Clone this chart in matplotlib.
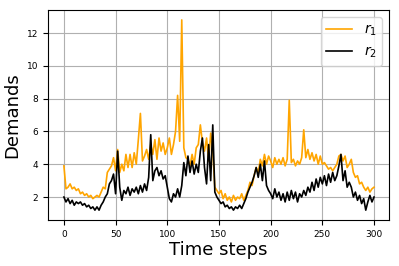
import numpy as np
import matplotlib
matplotlib.use("Agg")
import matplotlib.pyplot as plt

# values, every 2 time steps
steps = np.arange(0, 301, 2)

r1 = [3.9, 2.5, 2.6, 2.8, 2.5, 2.6, 2.4, 2.5, 2.2, 2.3,
      2.1, 2.2, 2.0, 2.1, 1.9, 2.0, 2.1, 2.0, 2.3, 2.6,
      2.5, 3.5, 3.7, 3.9, 4.4, 3.6, 4.9, 3.5, 4.0, 3.6,
      4.6, 3.8, 4.6, 3.8, 4.7, 4.0, 5.5, 7.1, 4.2, 4.5,
      4.9, 4.3, 5.2, 4.6, 5.5, 4.3, 5.6, 4.8, 5.3, 4.6,
      5.0, 5.6, 4.6, 5.2, 6.0, 8.2, 5.4, 12.8, 5.0, 4.4,
      4.3, 3.9, 4.6, 4.0, 5.0, 5.2, 6.4, 5.3, 4.8, 5.6,
      4.2, 5.9, 4.8, 2.6, 2.4, 2.2, 2.4, 1.9, 2.2, 1.8,
      2.0, 1.7, 2.1, 1.8, 2.0, 1.9, 2.2, 1.8, 2.1, 2.4,
      2.9, 2.7, 3.3, 3.8, 3.5, 4.3, 3.9, 4.6, 4.0, 4.5,
      4.2, 3.8, 4.4, 4.0, 4.3, 4.0, 4.4, 3.9, 4.3, 7.9,
      4.1, 4.3, 3.9, 4.2, 4.0, 4.4, 6.1, 4.4, 4.9, 4.3,
      4.7, 4.2, 4.6, 4.0, 4.5, 4.0, 4.1, 3.9, 3.7, 3.8,
      3.6, 3.8, 4.0, 4.5, 4.6, 4.2, 4.5, 3.8, 4.0, 4.3,
      3.5, 3.2, 3.3, 2.8, 2.9, 2.6, 2.4, 2.6, 2.3, 2.5,
      2.6]

r2 = [2.0, 1.7, 1.9, 1.6, 1.8, 1.5, 1.7, 1.6, 1.7, 1.5,
      1.6, 1.4, 1.5, 1.3, 1.4, 1.2, 1.4, 1.2, 1.5, 1.7,
      2.0, 2.2, 2.8, 3.0, 3.4, 2.2, 4.8, 2.6, 1.8, 2.4,
      2.2, 2.6, 2.1, 2.5, 2.3, 2.6, 2.2, 2.7, 2.3, 2.8,
      2.4, 3.2, 5.8, 3.0, 3.6, 3.8, 3.3, 3.6, 3.1, 3.3,
      2.6, 1.9, 1.7, 2.2, 2.0, 2.5, 2.0, 2.7, 4.1, 3.3,
      4.5, 3.5, 4.2, 3.4, 4.0, 3.5, 4.8, 5.6, 3.8, 2.8,
      5.2, 3.0, 6.4, 2.3, 2.0, 1.8, 1.6, 1.7, 1.4, 1.5,
      1.3, 1.4, 1.2, 1.4, 1.3, 1.5, 1.3, 1.6, 1.9, 2.3,
      2.6, 2.9, 3.3, 3.8, 3.2, 4.0, 3.0, 4.2, 2.7, 2.4,
      2.2, 1.9, 2.5, 2.0, 2.3, 1.8, 2.2, 1.7, 2.3, 1.8,
      2.4, 1.9, 2.3, 1.7, 2.2, 2.0, 2.4, 2.1, 2.6, 2.3,
      2.9, 2.4, 3.1, 2.6, 3.2, 2.8, 3.3, 2.7, 3.4, 2.9,
      3.5, 3.0, 3.3, 3.9, 4.6, 3.0, 3.6, 2.6, 2.9, 2.6,
      2.0, 2.3, 1.8, 2.1, 1.6, 1.9, 1.2, 1.7, 2.1, 1.7,
      2.0]

fig = plt.figure(figsize=(3.99, 2.66), dpi=100)
ax = fig.add_axes([0.12, 0.173, 0.855, 0.789])
ax.plot(steps, r1, color="orange", lw=1.2, label=r"$r_1$")
ax.plot(steps, r2, color="black", lw=1.2, label=r"$r_2$")
ax.set_xlim(-15.5, 314.5)
ax.set_ylim(0.6, 13.4)
ax.set_xticks(np.arange(0, 301, 50))
ax.set_yticks(np.arange(2, 13, 2))
ax.tick_params(labelsize=6.5)
ax.grid(True, color="#b0b0b0", lw=0.8)
ax.set_xlabel("Time steps", fontsize=13, labelpad=2)
ax.set_ylabel("Demands", fontsize=13)
ax.legend(loc="upper right", fontsize=10, handlelength=1.9)
fig.savefig("out.png", dpi=100)
